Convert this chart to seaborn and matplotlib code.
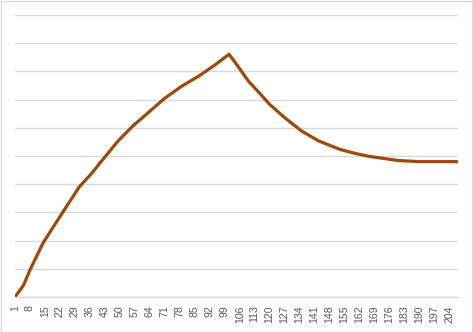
import matplotlib
matplotlib.use("Agg")
import matplotlib.pyplot as plt
import seaborn as sns
import pandas as pd
from matplotlib.patches import Rectangle

# Data (category index, value)
categories = [1, 5, 8, 11, 14, 18, 22, 26, 31, 37, 41, 45, 49, 56, 66, 71, 79,
              87, 95, 101, 105, 110, 115, 120, 127, 135, 143, 153, 160, 167,
              180, 190, 208]
values = [0.0, 0.42, 0.96, 1.43, 1.90, 2.38, 2.85, 3.32, 3.90, 4.40, 4.78, 5.15,
          5.52, 6.06, 6.72, 7.05, 7.48, 7.84, 8.26, 8.61, 8.20, 7.66, 7.25,
          6.83, 6.36, 5.88, 5.53, 5.23, 5.09, 4.98, 4.84, 4.80, 4.80]
tick_labels = list(range(1, 205, 7))

df = pd.DataFrame({"x": categories, "y": values})

sns.set_theme(style="white")
plt.rcParams["font.family"] = ["Liberation Sans", "DejaVu Sans"]

fig = plt.figure(figsize=(4.73, 3.32), dpi=100)
ax = fig.add_axes([15 / 473, 35 / 332, (458 - 15) / 473, (297 - 15) / 332])

sns.lineplot(data=df, x="x", y="y", ax=ax, color="#9E480E", linewidth=2.3)

ax.set_xlim(1, 208)
ax.set_ylim(0, 10)
ax.set_yticks(range(0, 11))
ax.set_yticklabels([])
ax.yaxis.grid(True, color="#d9d9d9", linewidth=1.0)
ax.xaxis.grid(False)
ax.set_axisbelow(True)
ax.set_xticks(tick_labels)
ax.set_xticklabels([str(t) for t in tick_labels], rotation=90, fontsize=7.6,
                   color="#595959")
ax.tick_params(axis="x", length=0, pad=6)
ax.tick_params(axis="y", length=0)
ax.set_xlabel("")
ax.set_ylabel("")
for s in ["top", "right", "left"]:
    ax.spines[s].set_visible(False)
ax.spines["bottom"].set_color("#d9d9d9")
ax.spines["bottom"].set_linewidth(1.0)

fig.patches.append(Rectangle((0.5 / 473, 0.5 / 332), 1 - 1.5 / 473, 1 - 1.5 / 332,
                             transform=fig.transFigure, fill=False,
                             edgecolor="#d9d9d9", linewidth=1.0))

fig.savefig("out.png", dpi=100)
